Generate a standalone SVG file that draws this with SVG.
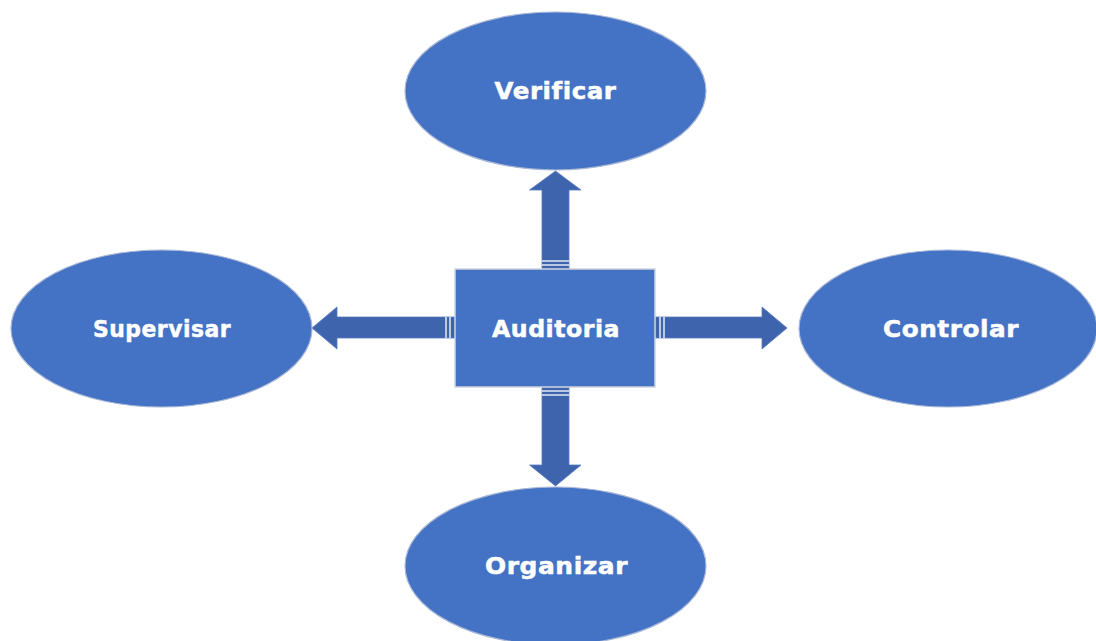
<svg xmlns="http://www.w3.org/2000/svg" width="1096" height="641" viewBox="0 0 1096 641">
<style>
.ell{fill:#4472C4;stroke:#A9B8D6;stroke-width:1.2}
.box{fill:#4472C4;stroke:#D0D4DC;stroke-width:1.5}
.arr{fill:#3E64AD;stroke:#5B7CC0;stroke-width:0.8}
.gap{stroke:#FFFFFF;stroke-width:1.3}
.lbl{font-family:"DejaVu Sans",sans-serif;font-weight:bold;font-size:23px;fill:#FFFFFF;stroke:#FFFFFF;stroke-width:0.5;text-anchor:middle;dominant-baseline:central;letter-spacing:0.5px}
</style>
<rect width="1096" height="641" fill="#FFFFFF"/>
<g id="connectors">
  <g id="arrow-up">
    <polygon class="arr" points="542,269 542,190 529.5,190 555.5,171 581,190 569,190 569,269"/>
    <line class="gap" x1="542" y1="261" x2="569" y2="261"/>
    <line class="gap" x1="542" y1="265" x2="569" y2="265"/>
  </g>
  <g id="arrow-down">
    <polygon class="arr" points="542,387 542,465 529.5,465 555.5,486 581,465 569,465 569,387"/>
    <line class="gap" x1="542" y1="391" x2="569" y2="391"/>
    <line class="gap" x1="542" y1="395" x2="569" y2="395"/>
  </g>
  <g id="arrow-left">
    <polygon class="arr" points="455,317 337,317 337,307 312,328 337,349 337,338 455,338"/>
    <line class="gap" x1="446" y1="317" x2="446" y2="338"/>
    <line class="gap" x1="450" y1="317" x2="450" y2="338"/>
  </g>
  <g id="arrow-right">
    <polygon class="arr" points="655,317 762,317 762,307 787,328 762,349 762,338 655,338"/>
    <line class="gap" x1="660" y1="317" x2="660" y2="338"/>
    <line class="gap" x1="664" y1="317" x2="664" y2="338"/>
  </g>
</g>
<g id="node-verificar">
  <ellipse class="ell" cx="555.5" cy="91" rx="150.5" ry="79"/>
  <text class="lbl" x="555.5" y="91" textLength="122" lengthAdjust="spacingAndGlyphs">Verificar</text>
</g>
<g id="node-supervisar">
  <ellipse class="ell" cx="161.5" cy="328.5" rx="150.5" ry="78.5"/>
  <text class="lbl" x="162" y="329" textLength="138" lengthAdjust="spacingAndGlyphs">Supervisar</text>
</g>
<g id="node-controlar">
  <ellipse class="ell" cx="948" cy="328.5" rx="149" ry="78.5"/>
  <text class="lbl" x="951" y="329" textLength="136" lengthAdjust="spacingAndGlyphs">Controlar</text>
</g>
<g id="node-organizar">
  <ellipse class="ell" cx="555.5" cy="566" rx="150.5" ry="79"/>
  <text class="lbl" x="556.5" y="566" textLength="143" lengthAdjust="spacingAndGlyphs">Organizar</text>
</g>
<g id="node-auditoria">
  <rect class="box" x="455" y="269" width="200" height="118"/>
  <text class="lbl" x="556" y="329" textLength="128" lengthAdjust="spacingAndGlyphs">Auditoria</text>
</g>
</svg>
